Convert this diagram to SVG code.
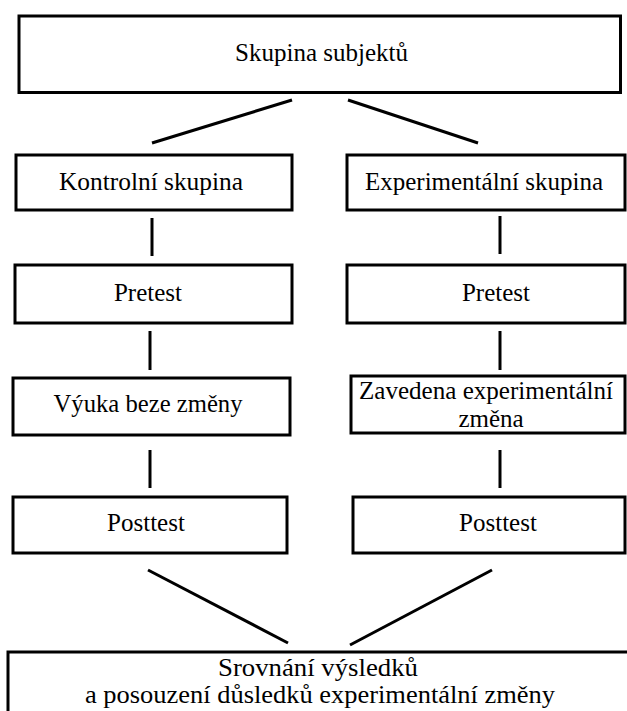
<svg xmlns="http://www.w3.org/2000/svg" width="627" height="711" viewBox="0 0 627 711">
<style>
.box{fill:#fff;stroke:#000;stroke-width:3}
.t{font-family:'Liberation Serif','Times New Roman',serif;font-size:25px;fill:#000;text-anchor:middle}
.c{stroke:#000;stroke-width:3;fill:none}
</style>
<rect width="627" height="711" fill="#fff"/>
<g id="connectors">
<line class="c" x1="292" y1="100" x2="152" y2="143"/>
<line class="c" x1="348" y1="100" x2="478" y2="143"/>
<line class="c" x1="152" y1="218" x2="152" y2="256"/>
<line class="c" x1="500" y1="216" x2="500" y2="254"/>
<line class="c" x1="150" y1="331" x2="150" y2="370"/>
<line class="c" x1="500" y1="331" x2="500" y2="370"/>
<line class="c" x1="150" y1="450" x2="150" y2="488"/>
<line class="c" x1="500" y1="450" x2="500" y2="488"/>
<line class="c" x1="148" y1="570" x2="288" y2="643"/>
<line class="c" x1="492" y1="570" x2="350" y2="645"/>
</g>
<g id="skupina"><rect class="box" x="19" y="16" width="601.5" height="76.5"/><text class="t" x="321.5" y="61" textLength="173" lengthAdjust="spacingAndGlyphs">Skupina subjektů</text></g>
<g id="kontrolni"><rect class="box" x="16" y="155" width="276" height="55"/><text class="t" x="151" y="190" textLength="184" lengthAdjust="spacingAndGlyphs">Kontrolní skupina</text></g>
<g id="experimentalni"><rect class="box" x="347" y="155" width="278" height="55"/><text class="t" x="484" y="190" textLength="238" lengthAdjust="spacingAndGlyphs">Experimentální skupina</text></g>
<g id="pretest1"><rect class="box" x="15" y="265" width="277" height="58"/><text class="t" x="148" y="301">Pretest</text></g>
<g id="pretest2"><rect class="box" x="347" y="265" width="278" height="58"/><text class="t" x="496" y="301">Pretest</text></g>
<g id="vyuka"><rect class="box" x="13" y="378" width="277" height="57"/><text class="t" x="148" y="412" textLength="189" lengthAdjust="spacingAndGlyphs">Výuka beze změny</text></g>
<g id="zavedena"><rect class="box" x="351" y="376" width="274" height="57"/><text class="t" x="486" y="399" textLength="254" lengthAdjust="spacingAndGlyphs">Zavedena experimentální</text><text class="t" x="491" y="427">změna</text></g>
<g id="posttest1"><rect class="box" x="13" y="497" width="274" height="56"/><text class="t" x="146" y="531">Posttest</text></g>
<g id="posttest2"><rect class="box" x="353" y="497" width="272" height="56"/><text class="t" x="498" y="531">Posttest</text></g>
<g id="srovnani"><rect class="box" x="8" y="652" width="630" height="80"/><text class="t" x="318" y="676" textLength="200" lengthAdjust="spacingAndGlyphs">Srovnání výsledků</text><text class="t" x="320" y="703" textLength="470" lengthAdjust="spacingAndGlyphs">a posouzení důsledků experimentální změny</text></g>
</svg>
